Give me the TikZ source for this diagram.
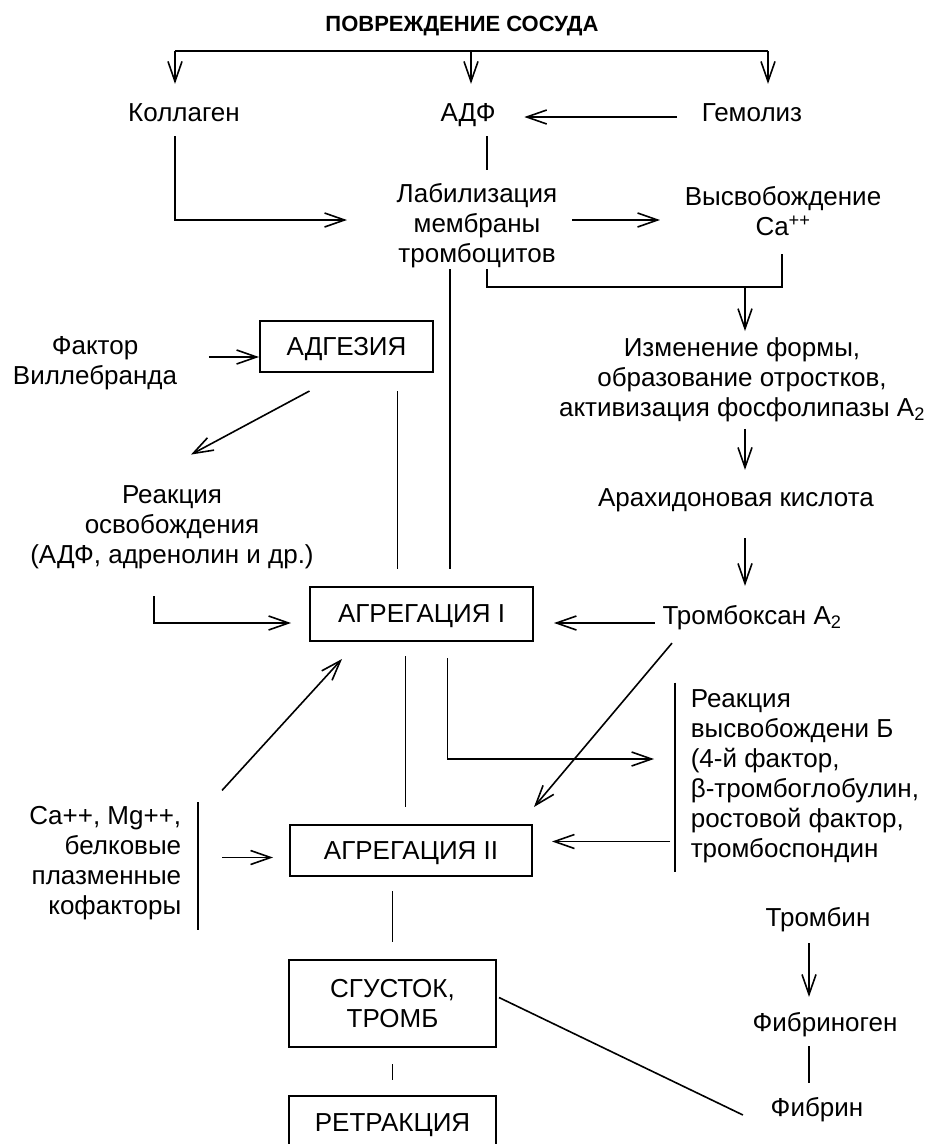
\documentclass[tikz,border=0pt]{standalone}
\usepackage{fontspec}
\setmainfont{Liberation Sans}
\usetikzlibrary{arrows.meta,calc}

\tikzset{
  lbl/.style={align=center, inner sep=0pt, font=\fontsize{26}{30}\selectfont},
  one/.style={lbl, text height=18.6pt, text depth=0pt},
  blk/.style={draw, line width=2pt, inner sep=0pt, align=center, text depth=0pt, font=\fontsize{26}{30}\selectfont},
  arr/.style={-{Straight Barb[length=20pt,width=14pt]}},
}

\begin{document}
\begin{tikzpicture}[x=1pt,y=-1pt,line width=1.6pt]
\clip (0,0) rectangle (933,1144);

\node[font=\bfseries\fontsize{22}{26}\selectfont] (title) at (462,26) {ПОВРЕЖДЕНИЕ СОСУДА};
\coordinate (bl) at (175,51);
\coordinate (bm) at (471,51);
\coordinate (br) at (768,51);
\draw (bl) -- (br);

\node[one] (kol) at (184,112) {Коллаген};
\node[one] (adf) at (468,112) {АДФ};
\node[one] (gem) at (752,112) {Гемолиз};
\draw[arr, shorten >=18pt] (bl) -- (bl |- kol.north);
\draw[arr, shorten >=18pt] (bm) -- (bm |- adf.north);
\draw[arr, shorten >=18pt] (br) -- (br |- gem.north);
\draw[arr, shorten <=24pt, shorten >=28pt] ([yshift=-5pt]gem.west) -- ([yshift=-5pt]adf.east);

\node[lbl] (lab) at (477,226) {Лабилизация\\мембраны\\тромбоцитов};
\node[lbl] (ca) at (783,211) {Высвобождение\\Ca\textsuperscript{++}};
\draw[shorten <=14pt, shorten >=13pt] ([xshift=19pt]adf.south) -- ([xshift=19pt]adf.south |- lab.north);
\draw[arr, shorten <=14pt, shorten >=49pt] (kol.south -| bl) |- ([yshift=6pt]lab.west);
\draw[arr, shorten <=14pt, shorten >=24pt] ([yshift=6pt]lab.east) -- ([yshift=6pt]lab.east -| ca.west);

% Ca++ and membrane lines meet, then go down
\coordinate (jc) at (745,287);
\node[lbl] (form) at (742,380) {Изменение формы,\\образование отростков,\\активизация фосфолипазы A\textsubscript{2}};
\draw[shorten <=18pt] ([xshift=-1pt]ca.south) |- (jc);
\draw ([xshift=10pt]lab.south) |- (jc);
\draw[arr, shorten >=6pt] (jc) -- (jc |- form.north);

\node[one] (arax) at (736,497) {Арахидоновая кислота};
\node[one] (tbx) at (752,615) {Тромбоксан A\textsubscript{2}};
\draw[arr, shorten <=6pt, shorten >=17pt] (form.south -| jc) -- (arax.north -| jc);
\draw[arr, shorten <=31pt, shorten >=19pt] (arax.south -| jc) -- (tbx.north -| jc);

\node[blk, minimum width=173pt, minimum height=51pt] (adg) at (346.5,346.5) {АДГЕЗИЯ};
\node[lbl] (vil) at (95,363) {Фактор\\Виллебранда};
\node[lbl] (rel) at (172,527) {Реакция\\освобождения\\(АДФ, адренолин и др.)};
\draw[arr, shorten <=31pt] ([yshift=6pt]vil.east) -- ([yshift=6pt]vil.east -| adg.west);
\draw[arr] ($(adg.south)+(-37,18)$) -- ($(rel.north)+(19,-30)$);

\node[blk, minimum width=223pt, minimum height=54pt] (ag1) at (421.5,614) {АГРЕГАЦИЯ I};
\draw[shorten <=18pt, shorten >=17pt] ([xshift=51pt]adg.south) -- ([xshift=51pt]adg.south |- ag1.north);
\draw[shorten >=17pt] ([xshift=-27pt]lab.south) -- ([xshift=-27pt]lab.south |- ag1.north);
\draw[arr, shorten <=27pt, shorten >=18pt] ([xshift=-18pt]rel.south) |- ([yshift=-9pt]ag1.west);
\draw[arr, shorten <=7pt, shorten >=20pt] ([yshift=-9pt]ag1.east -| tbx.west) -- ([yshift=-9pt]ag1.east);

\node[lbl, align=left, anchor=west] (relb) at (690,776) {Реакция\\высвобождени Б\\(4-й фактор,\\β-тромбоглобулин,\\ростовой фактор,\\тромбоспондин};
\draw ($(relb.north west)+(-15,-6)$) -- ($(relb.south west)+(-15,9)$);
\draw[arr, shorten <=16pt, shorten >=36pt] ([xshift=26pt]ag1.south) |- ([yshift=17pt]relb.west);

\node[blk, minimum width=242pt, minimum height=51pt] (ag2) at (411,850.5) {АГРЕГАЦИЯ II};
\node[lbl, align=right, anchor=east] (cof) at (182,863) {Ca++, Mg++,\\белковые\\плазменные\\кофакторы};
\draw ($(cof.north east)+(16,-3)$) -- ($(cof.south east)+(16,9)$);
\draw[arr, shorten <=40pt, shorten >=16pt] ([yshift=-7pt]ag2.west -| cof.east) -- ([yshift=-7pt]ag2.west);
\draw[arr] ($(cof.north east)+(40,-15)$) -- ($(ag1.south west)+(33,17)$);
\draw[shorten <=14pt, shorten >=17pt] ([xshift=-16pt]ag1.south) -- ([xshift=-16pt]ag1.south |- ag2.north);
\draw[arr, shorten <=20pt, shorten >=19pt] ([yshift=9pt]ag2.east -| relb.west) -- ([yshift=9pt]ag2.east);
\draw[arr] ($(tbx.south)+(-80,18)$) -- ($(ag2.north east)+(1,-17)$);

\node[blk, minimum width=207pt, minimum height=87pt] (clot) at (392.5,1003.5) {СГУСТОК,\\ТРОМБ};
\node[blk, minimum width=207pt, minimum height=54pt] (ret) at (392.5,1123) {РЕТРАКЦИЯ};
\draw[shorten <=14pt, shorten >=17pt] (clot.north |- ag2.south) -- (clot.north);
\draw[shorten <=16pt, shorten >=15pt] (clot.south) -- (ret.north);

\node[one] (trb) at (818,917) {Тромбин};
\node[one] (fbg) at (825,1022) {Фибриноген};
\node[one] (fbn) at (817,1107) {Фибрин};
\draw[arr, shorten <=16pt, shorten >=15pt] ([xshift=-9pt]trb.south) -- ([xshift=-9pt]trb.south |- fbg.north);
\draw[shorten <=14pt, shorten >=14pt] (fbg.south -| 809,0) -- (fbn.north -| 809,0);
\draw ($(clot.east)+(2,-6)$) -- ($(fbn.west)+(-27,8)$);
\end{tikzpicture}
\end{document}
